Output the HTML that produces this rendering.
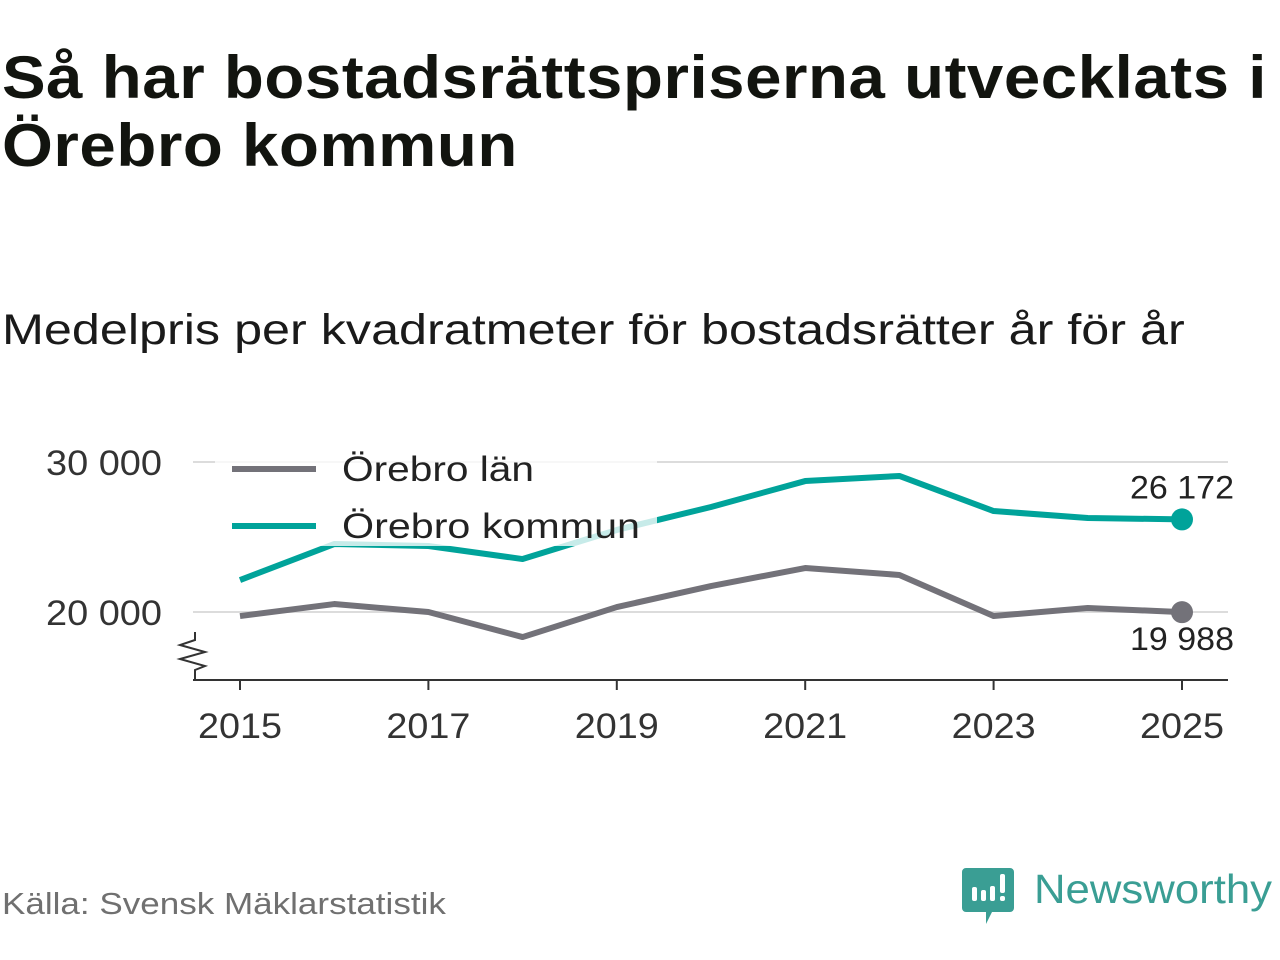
<!DOCTYPE html>
<html><head><meta charset="utf-8"><style>
body{margin:0;width:1280px;height:960px;background:#fff;font-family:"Liberation Sans","DejaVu Sans",sans-serif;overflow:hidden;position:relative}
h1{position:absolute;left:2px;top:44px;margin:0;font-size:60px;line-height:68px;font-weight:bold;color:#12140f;letter-spacing:0.5px;transform:scaleX(1.09);transform-origin:left top;white-space:nowrap}
.sub{position:absolute;left:2px;top:306px;font-size:43px;color:#1a1a1a;transform:scaleX(1.17);transform-origin:left top;white-space:nowrap}
.src{position:absolute;left:2px;top:886px;font-size:31px;color:#707070;transform:scaleX(1.13);transform-origin:left top;white-space:nowrap}
</style></head><body>
<h1>Så har bostadsrättspriserna utvecklats i<br>Örebro kommun</h1>
<div class="sub">Medelpris per kvadratmeter för bostadsrätter år för år</div>
<svg id="chart" width="1280" height="960" style="position:absolute;left:0;top:0" font-family="Liberation Sans, DejaVu Sans, sans-serif"></svg>
<div class="src">Källa: Svensk Mäklarstatistik</div>
<svg width="320" height="80" style="position:absolute;left:960px;top:860px">
<path d="M6 8 h44 a4 4 0 0 1 4 4 v36 a4 4 0 0 1 -4 4 h-18 l-6 12 v-12 h-20 a4 4 0 0 1 -4 -4 v-36 a4 4 0 0 1 4 -4z" fill="#3a9e94"/>
<rect x="12" y="27" width="5" height="14" rx="2" fill="#fff"/><rect x="21" y="30" width="5" height="11" rx="2" fill="#fff"/><rect x="30" y="26" width="5" height="15" rx="2" fill="#fff"/><rect x="40" y="14" width="5" height="19" rx="2" fill="#fff"/><rect x="40" y="36" width="5" height="5" rx="2" fill="#fff"/>
<text x="74" y="43" font-size="41" textLength="238" lengthAdjust="spacingAndGlyphs" fill="#3a9e94" font-family="Liberation Sans, sans-serif">Newsworthy</text>
</svg>
<script>
const years=[2015,2016,2017,2018,2019,2020,2021,2022,2023,2024,2025];
const kommun=[22130,24530,24400,23530,25470,27000,28730,29070,26730,26270,26172];
const lan=[19730,20530,20000,18330,20330,21730,22930,22470,19730,20270,19988];
const yTicks=[20000,30000];
const xTicks=[2015,2017,2019,2021,2023,2025];
const NS='http://www.w3.org/2000/svg';
const svg=document.getElementById('chart');
const X=y=>240+(y-2015)*94.2;
const Y=v=>612-(v-20000)*0.015;
function el(t,a,p){const e=document.createElementNS(NS,t);for(const k in a)e.setAttribute(k,a[k]);(p||svg).appendChild(e);return e;}
yTicks.forEach(v=>{
 const g=el('line',{x1:193,x2:1228,y1:Y(v),y2:Y(v),stroke:'#dcdcdc','stroke-width':2});
 
 const t=el('text',{x:162,y:Y(v)+13,'text-anchor':'end','font-size':35,fill:'#333',textLength:116,lengthAdjust:'spacingAndGlyphs'});
 t.textContent=v.toLocaleString('sv-SE').replace(/\s/g,' ');
 
});
const ax=el('line',{x1:193,x2:1228,y1:680,y2:680,stroke:'#333','stroke-width':2});

const br=el('polyline',{points:'195,632 195,640 180,645 205,652 180,659 205,666 195,670 195,680',fill:'none',stroke:'#333','stroke-width':2});

xTicks.forEach(y=>{
 const l=el('line',{x1:X(y),x2:X(y),y1:680,y2:690,stroke:'#333','stroke-width':2});
 
 const t=el('text',{x:X(y),y:738,'text-anchor':'middle','font-size':35,fill:'#333',textLength:84,lengthAdjust:'spacingAndGlyphs'});
 t.textContent=y;
});
function series(vals,color,name){
 const p=el('polyline',{points:vals.map((v,i)=>X(years[i])+','+Y(v)).join(' '),fill:'none',stroke:color,'stroke-width':6,'stroke-linejoin':'round'});
 
 const n=vals.length-1;
 const c=el('circle',{cx:X(years[n]),cy:Y(vals[n]),r:11,fill:color});
 
}
series(lan,'#737279','lan');
series(kommun,'#00a39a','kommun');
const l1=el('text',{x:1182,y:Y(kommun[10])-21,'text-anchor':'middle','font-size':32,fill:'#222',textLength:104,lengthAdjust:'spacingAndGlyphs'});
l1.textContent='26 172';
const l2=el('text',{x:1182,y:Y(lan[10])+38,'text-anchor':'middle','font-size':32,fill:'#222',textLength:104,lengthAdjust:'spacingAndGlyphs'});
l2.textContent='19 988';
const lb=el('rect',{x:215,y:452,width:442,height:94,fill:'#fff','fill-opacity':0.78});

[['Örebro län','#737279',469,192],['Örebro kommun','#00a39a',526,298]].forEach(([n,c,y,w])=>{
 const g=el('g',{});
 el('line',{x1:232,x2:316,y1:y,y2:y,stroke:c,'stroke-width':6},g);
 const t=el('text',{x:342,y:y+12,'font-size':35,fill:'#222',textLength:w,lengthAdjust:'spacingAndGlyphs'},g);t.textContent=n;
});
</script>
</body></html>
